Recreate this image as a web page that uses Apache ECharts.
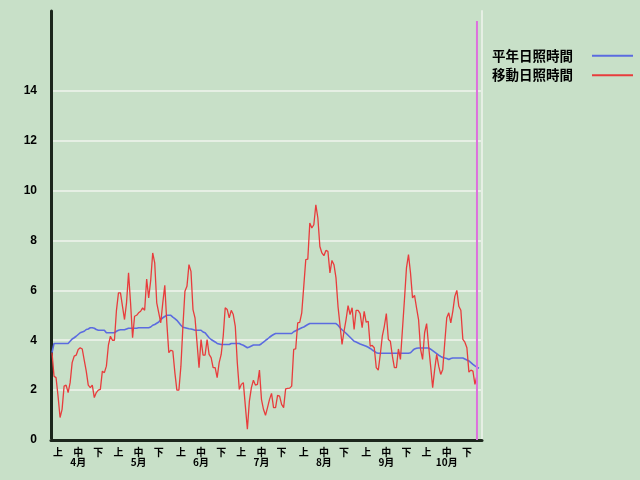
<!DOCTYPE html>
<html><head><meta charset="utf-8">
<script src="https://cdn.jsdelivr.net/npm/echarts@6/dist/echarts.min.js"></script>
<style>html,body{margin:0;padding:0;background:#c8e0c8;}#c{width:640px;height:480px;}</style>
</head><body><div id="c"></div>
<script>
const monthNames = ['4月','5月','6月','7月','8月','9月','10月'];
const monthDays = [30,31,30,31,31,30,31];
const dekadNames = ['上','中','下'];
const dekadOffsets = [3,13,23];
const yTicks = [0,2,4,6,8,10,12,14];
const seriesNames = ['平年日照時間','移動日照時間'];

const normalSun = [
3.5,3.87,3.87,3.87,3.87,3.87,3.87,3.87,3.87,3.96,
4.05,4.1,4.16,4.23,4.3,4.33,4.36,4.43,4.45,4.5,
4.5,4.48,4.43,4.4,4.4,4.4,4.4,4.3,4.3,4.3,
4.3,4.3,4.36,4.4,4.42,4.42,4.42,4.45,4.48,4.48,
4.48,4.48,4.48,4.5,4.5,4.5,4.5,4.5,4.5,4.53,
4.6,4.63,4.68,4.73,4.83,4.9,4.95,5.0,5.0,5.0,
4.93,4.87,4.8,4.7,4.6,4.52,4.5,4.48,4.46,4.45,
4.43,4.4,4.4,4.4,4.4,4.33,4.3,4.2,4.1,4.03,
3.98,3.93,3.87,3.85,3.83,3.83,3.83,3.83,3.83,3.87,
3.87,3.87,3.87,3.87,3.83,3.8,3.75,3.7,3.73,3.77,
3.81,3.81,3.81,3.81,3.86,3.92,3.99,4.05,4.12,4.18,
4.23,4.27,4.27,4.27,4.27,4.27,4.27,4.27,4.27,4.27,
4.34,4.38,4.42,4.46,4.5,4.53,4.58,4.63,4.67,4.67,
4.67,4.67,4.67,4.67,4.67,4.67,4.67,4.67,4.67,4.67,
4.67,4.67,4.6,4.5,4.42,4.35,4.28,4.2,4.12,4.04,
3.96,3.93,3.89,3.85,3.82,3.79,3.76,3.72,3.67,3.61,
3.56,3.5,3.48,3.48,3.48,3.48,3.48,3.48,3.48,3.48,
3.48,3.48,3.48,3.48,3.48,3.48,3.48,3.48,3.5,3.58,
3.65,3.68,3.69,3.69,3.69,3.69,3.69,3.69,3.64,3.58,
3.52,3.46,3.4,3.35,3.31,3.29,3.27,3.23,3.27,3.29,
3.29,3.29,3.29,3.29,3.29,3.25,3.21,3.17,3.1,3.03,
2.97,2.92,2.88
];

const movingSun = [
3.5,2.56,2.5,1.76,0.9,1.23,2.16,2.2,1.9,2.3,
3.1,3.36,3.4,3.63,3.7,3.65,3.2,2.76,2.2,2.1,
2.2,1.7,1.9,2.0,2.03,2.76,2.7,2.96,3.8,4.16,
4.0,4.0,5.2,5.9,5.9,5.36,4.83,5.5,6.7,5.5,
4.1,4.96,5.0,5.1,5.16,5.3,5.2,6.45,5.7,6.4,
7.5,7.1,5.5,5.1,4.7,5.5,6.2,4.7,3.5,3.6,
3.56,2.7,2.0,2.0,2.96,4.56,5.96,6.16,7.03,6.76,
5.23,4.9,3.9,2.9,4.03,3.4,3.4,4.03,3.43,3.3,
2.9,2.9,2.5,3.1,3.43,4.16,5.3,5.23,4.9,5.2,
5.03,4.56,3.1,2.03,2.23,2.3,1.36,0.43,1.56,2.1,
2.4,2.2,2.23,2.8,1.63,1.23,0.99,1.3,1.63,1.87,
1.3,1.3,1.79,1.76,1.43,1.3,2.05,2.07,2.08,2.16,
3.63,3.65,4.7,4.72,5.1,6.16,7.23,7.25,8.7,8.5,
8.63,9.43,8.9,7.76,7.5,7.39,7.6,7.56,6.7,7.2,
7.03,6.5,5.36,4.6,3.83,4.36,4.83,5.39,5.03,5.3,
4.43,5.2,5.2,5.07,4.5,5.16,4.72,4.76,3.76,3.79,
3.7,2.9,2.8,3.43,4.16,4.56,5.07,4.03,3.96,3.36,
2.9,2.9,3.65,3.23,4.43,5.63,6.9,7.43,6.7,5.7,
5.8,5.3,4.83,3.63,3.23,4.3,4.67,3.76,2.96,2.1,
2.83,3.43,2.96,2.63,2.83,3.9,4.9,5.1,4.7,5.16,
5.76,6.0,5.36,5.2,4.03,3.92,3.7,2.72,2.8,2.76,
2.23,2.59
];

const markerDay = '10/29';
const markerTop = 16.8;

const categories = [];
const labelMap = {};
let idx = 0;
monthDays.forEach((n, m) => {
  for (let d = 1; d <= n; d++) categories.push((m + 4) + '/' + d);
  dekadOffsets.forEach((o, j) => {
    labelMap[idx + o] = j === 1 ? dekadNames[j] + '\n' + monthNames[m] : dekadNames[j];
  });
  idx += n;
});

const chart = echarts.init(document.getElementById('c'), null, {renderer: 'canvas'});
const dark = '#1c261c';
const light = '#e6efe4';
chart.setOption({
  backgroundColor: '#c8e0c8',
  animation: false,
  grid: {left: 51, right: 158, top: 11, bottom: 40},
  legend: {
    data: seriesNames,
    orient: 'vertical',
    left: 487, top: 44,
    align: 'right',
    icon: 'rect',
    itemWidth: 41, itemHeight: 2, itemGap: 6,
    textStyle: {fontSize: 13.5, fontWeight: 'bold', color: '#000', fontFamily: 'Noto Sans CJK JP', padding: [0, 14, 0, 0]}
  },
  xAxis: [{
    type: 'category', data: categories, boundaryGap: true, position: 'bottom',
    axisLine: {lineStyle: {color: light, width: 2}},
    axisTick: {show: false},
    splitLine: {show: false},
    axisLabel: {
      interval: (i) => labelMap[i] !== undefined,
      formatter: (v, i) => labelMap[i] || '',
      fontSize: 10, fontWeight: 'bold', color: '#000', lineHeight: 10, margin: 7,
      fontFamily: 'Noto Sans CJK JP'
    }
  }, {
    type: 'category', data: categories, boundaryGap: true, position: 'top',
    axisLine: {lineStyle: {color: dark, width: 3}},
    axisTick: {show: false}, axisLabel: {show: false}, splitLine: {show: false}
  }],
  yAxis: [{
    type: 'value', min: 0, max: 17.2, position: 'left',
    axisLine: {show: true, lineStyle: {color: dark, width: 3}},
    axisTick: {show: false, customValues: yTicks},
    axisLabel: {customValues: yTicks, fontSize: 12, fontWeight: 'bold', color: '#000', margin: 14, fontFamily: 'Liberation Sans'},
    splitLine: {show: true, lineStyle: {color: light, width: 2}}
  }, {
    type: 'value', min: 0, max: 17.2, position: 'right',
    axisLine: {show: true, lineStyle: {color: light, width: 2}},
    axisTick: {show: false}, axisLabel: {show: false}, splitLine: {show: false}
  }],
  series: [{
    name: seriesNames[0], type: 'line', data: normalSun, symbol: 'none',
    lineStyle: {color: '#5b6be0', width: 1.6}, itemStyle: {color: '#5b6be0'}
  }, {
    name: seriesNames[1], type: 'line', data: movingSun, symbol: 'none',
    lineStyle: {color: '#e83c3c', width: 1.3}, itemStyle: {color: '#e83c3c'}
  }, {
    name: 'marker', type: 'bar', data: [[markerDay, markerTop]], barWidth: 2,
    itemStyle: {color: '#dd70dd'}, z: 5
  }]
});
</script></body></html>
